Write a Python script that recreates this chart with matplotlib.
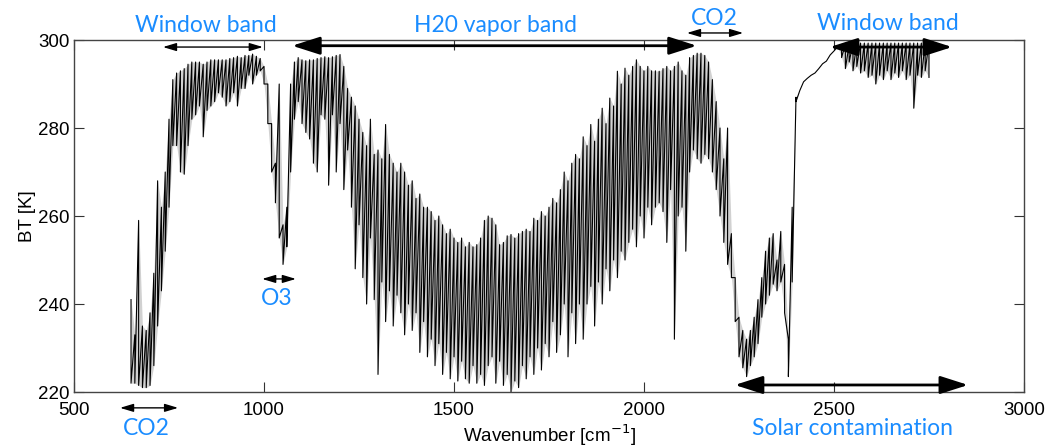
import numpy as np
import matplotlib
matplotlib.use('Agg')
import matplotlib.pyplot as plt

# spectrum, one (top, bottom) pair every 10 cm-1
wavenumber = np.arange(650, 2760, 10)

bt_top = [
    241, 233, 259, 235, 234, 238, 247, 268, 262, 270,
    282, 291, 292.5, 293, 293.5, 294.5, 295, 295, 295, 294.5,
    295, 295.5, 295.5, 295.5, 295.5, 295.5, 295.8, 296, 296.3, 296,
    296.5, 296.5, 296.8, 296.3, 295.8, 294, 290, 281, 272, 290,
    258, 262, 290, 295, 296,
    # 1100 - 1590
    295.5, 295.3, 295.5, 295.5, 295.8, 296, 296.2, 296, 296.2, 296.5,
    296.7, 294, 289, 287, 285, 282, 279, 276, 282, 274,
    275, 273, 280.8, 274, 272, 270, 272, 270, 267, 268,
    264, 265, 262, 262, 261, 259, 260, 258, 256, 257,
    255, 254, 255, 253, 254, 253, 253.5, 255, 259, 260,
    # 1600 - 2090
    259.5, 258, 253.5, 254, 255.5, 255.8, 255, 256, 256.5, 257,
    256.5, 259.5, 259, 261, 260, 262, 264, 263, 266, 270,
    268, 272, 274, 273, 278, 276, 280.8, 277, 282, 284.5,
    281, 286.8, 285, 292.9, 290, 293.6, 292, 294, 295.5, 294,
    293, 294, 293, 293, 292.9, 293.5, 294, 293, 294, 295,
    # 2100 - 2510
    293, 292, 296, 296.5, 297, 297, 296.5, 295, 291, 286,
    280, 273, 280, 256, 246, 237, 234, 232, 234, 237,
    241, 246, 252, 255, 256, 250, 256.5, 249, 232, 262,
    287, 288.5, 290.5, 291.3, 292, 292.5, 293.5, 294.6, 295.2, 296.6,
    297.5, 298.5,
    # 2520 - 2750
    299, 299, 299, 299.2, 299.3, 299.3, 299.3, 299.3, 299.3, 299.3,
    299.3, 299.3, 299.3, 299.3, 299.3, 299.3, 299.3, 299.3, 299.3, 299.3,
    299.3, 299.3, 299.3, 299.3,
]

bt_bottom = [
    222, 222, 221.5, 221, 221, 221.5, 226, 235, 243, 252,
    262, 276, 276, 270, 269.5, 276, 282, 283, 285, 278,
    284, 285, 286, 288, 287, 285, 286, 288, 285, 289,
    289, 292, 290, 292, 293, 290, 281, 270, 263, 255,
    249, 253, 270, 282, 286,
    # 1100 - 1590
    281, 279, 277.5, 272, 270, 283, 282, 267, 283, 270,
    281, 266, 275, 262, 248, 258, 246, 240, 255, 241,
    224, 245, 236, 243, 235, 242, 238, 233, 240, 234,
    238, 229, 236, 228, 232, 226, 231, 224, 229, 223,
    228, 222.5, 227, 223, 222, 226, 222, 224, 221.5, 226,
    # 1600 - 2090
    228, 222, 227, 221.5, 224, 220, 222.5, 221, 226, 223,
    228, 224, 230, 225, 231, 228, 236, 229, 233, 240,
    228, 238, 231, 240, 232, 240, 244, 235, 245, 240,
    248, 243, 250, 246, 252, 250, 254, 257, 253, 260,
    255, 262, 258, 262, 263, 261, 254, 266, 232, 260,
    # 2100 - 2510
    262, 252, 270, 275, 273, 272, 274, 273, 270, 266,
    260, 254, 249, 246, 236, 228, 225.5, 223.5, 226, 228,
    231, 237, 240, 242, 244.5, 243, 245, 238, 223.5, 245,
    286, 288.5, 290.5, 291.3, 292, 292.5, 293.5, 294.6, 295.2, 296.6,
    297.5, 298.5,
    # 2520 - 2750
    296, 293.5, 295, 293, 294, 292.5, 293, 291.5, 292, 290,
    292, 291, 293, 291, 292.5, 291.5, 293, 291, 292, 284.5,
    292, 291.5, 293, 291.5,
]

# band annotations: label, arrow start/end (cm-1), arrow height (K), text pos, heavy arrow
bands = [
    ('Window band', 734, 997, 298.4, (847, 303.4), False),
    ('H20 vapor band', 1074, 2139, 298.7, (1608, 303.4), True),
    ('CO2', 2113, 2261, 301.6, (2184, 305.0), False),
    ('Window band', 2489, 2811, 298.4, (2642, 303.8), True),
    ('O3', 995, 1084, 245.7, (1034, 241.2), False),
    ('CO2', 621, 774, 216.4, (689, 211.7), False),
    ('Solar contamination', 2239, 2853, 221.6, (2550, 211.7), True),
]

blue = '#1a8cff'

plt.rcParams['font.family'] = ['Liberation Sans', 'DejaVu Sans']

fig = plt.figure(figsize=(10.5, 4.47), dpi=100)
ax = fig.add_axes([0.0705, 0.123, 0.9047, 0.7875])

# faint core of the line forest, then the lines themselves
ax.fill_between(wavenumber, bt_bottom, bt_top, color='k', alpha=0.18, lw=0)
xs = np.repeat(wavenumber, 2)
ys = np.column_stack([bt_top, bt_bottom]).ravel()
ax.plot(xs, ys, color='k', lw=0.8)

for label, x0, x1, y, (tx, ty), heavy in bands:
    if heavy:
        props = dict(arrowstyle='<|-|>,head_length=1.0,head_width=0.32',
                     color='k', lw=2.0, mutation_scale=17, shrinkA=0, shrinkB=0)
    else:
        props = dict(arrowstyle='<|-|>,head_length=1.0,head_width=0.3',
                     color='k', lw=1.0, mutation_scale=8, shrinkA=0, shrinkB=0)
    ax.annotate('', xy=(x1, y), xytext=(x0, y), arrowprops=props,
                annotation_clip=False)
    ax.text(tx, ty, label, color=blue, fontsize=16.5, family=['Lato', 'DejaVu Sans'],
            ha='center', va='center', clip_on=False)

ax.set_xlim(500, 3000)
ax.set_ylim(220, 300)
ax.set_xticks([500, 1000, 1500, 2000, 2500, 3000])
ax.set_yticks([220, 240, 260, 280, 300])
ax.tick_params(direction='in', top=True, right=True, length=7, width=0.8,
               labelsize=13.5, colors='#333333', labelcolor='k')
ax.tick_params(axis='x', pad=7)
ax.tick_params(axis='y', pad=3)
for s in ax.spines.values():
    s.set_color('#444444')
    s.set_linewidth(1.0)

ax.set_xlabel('Wavenumber [cm$^{-1}$]', fontsize=13.5, labelpad=3)
ax.set_ylabel('BT [K]', fontsize=13.5, labelpad=2)

fig.savefig('out.png', dpi=100)
